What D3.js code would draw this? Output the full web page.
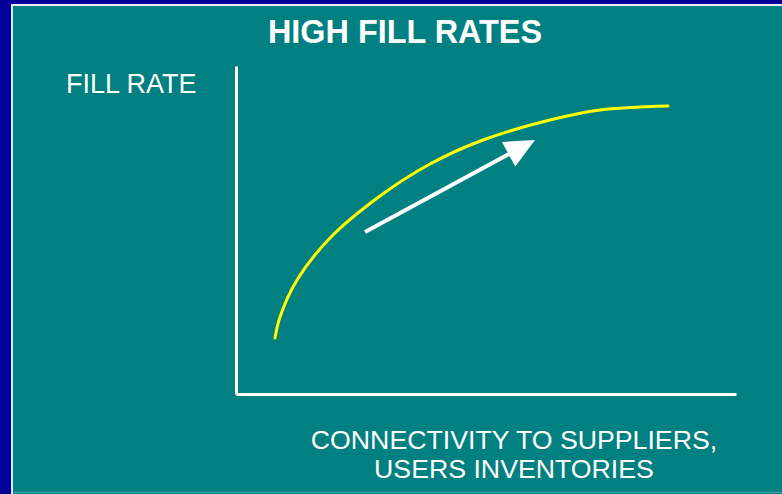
<!DOCTYPE html>
<html>
<head>
<meta charset="utf-8">
<script src="https://cdn.jsdelivr.net/npm/d3@7"></script>
<style>
  body { margin: 0; background: #000099; }
  text { font-family: "Liberation Sans", Arial, sans-serif; fill: #ffffff; }
</style>
</head>
<body>
<div id="chart"></div>
<script>
"use strict";

// curve (distance units from the axis origin)
var curveX = [39, 44, 61, 94, 144, 194, 247, 314, 364, 432];
var curveY = [56, 77, 114, 156, 198, 230, 254, 274, 284, 288];

// trend arrow: start and tip
var arrowX = [129, 299];
var arrowY = [162, 254];

var title = "HIGH FILL RATES";
var yLabel = "FILL RATE";
var xLabel = ["CONNECTIVITY TO SUPPLIERS,", "USERS INVENTORIES"];

var W = 782, H = 494;
var margin = {top: 66, right: 46, bottom: 100, left: 236},
    width = W - margin.left - margin.right,
    height = H - margin.top - margin.bottom;

var svg = d3.select("#chart")
  .append("svg")
    .attr("width", W)
    .attr("height", H)
    .style("display", "block");

// frame: blue border, thin white edge, teal panel
svg.append("rect").attr("width", W).attr("height", H).attr("fill", "#000099");
svg.append("rect").attr("x", 11).attr("y", 4).attr("width", W - 11).attr("height", H - 4).attr("fill", "#e8e8ff");
svg.append("rect").attr("x", 13).attr("y", 6).attr("width", W - 13).attr("height", H - 6).attr("fill", "#008080");
svg.append("rect").attr("x", 13).attr("y", H - 2).attr("width", W - 13).attr("height", 1).attr("fill", "#40a8a8");

svg.append("text")
  .attr("x", 405).attr("y", 43)
  .attr("text-anchor", "middle")
  .style("font-size", "32.4px").style("font-weight", "bold")
  .text(title);

svg.append("text")
  .attr("x", 66).attr("y", 93)
  .style("font-size", "27px")
  .text(yLabel);

svg.append("text")
  .attr("x", 514).attr("y", 449)
  .attr("text-anchor", "middle")
  .style("font-size", "26.7px")
  .selectAll("tspan")
  .data(xLabel)
  .join("tspan")
    .attr("x", 514)
    .attr("dy", function(d, i) { return i ? 29 : 0; })
    .text(function(d) { return d; });

var g = svg.append("g")
  .attr("transform", "translate(" + margin.left + "," + margin.top + ")");

var x = d3.scaleLinear().domain([0, 500]).range([0, width]);
var y = d3.scaleLinear().domain([0, 328]).range([height, 0]);

// axes: plain white lines, no ticks
var xAxis = g.append("g")
  .attr("transform", "translate(0," + height + ")")
  .call(d3.axisBottom(x).tickValues([]).tickSizeOuter(0));
var yAxis = g.append("g")
  .call(d3.axisLeft(y).tickValues([]).tickSizeOuter(0));
[xAxis, yAxis].forEach(function(a) {
  a.select(".domain").attr("stroke", "#ffffff").attr("stroke-width", 3);
});

var pts = curveX.map(function(d, i) { return [d, curveY[i]]; });
var line = d3.line()
  .x(function(d) { return x(d[0]); })
  .y(function(d) { return y(d[1]); })
  .curve(d3.curveCatmullRom.alpha(0.5));

g.append("path")
  .datum(pts)
  .attr("fill", "none")
  .attr("stroke", "#ffff00")
  .attr("stroke-width", 3)
  .attr("stroke-linecap", "round")
  .attr("d", line);

// arrow
var x0 = x(arrowX[0]), y0 = y(arrowY[0]), x1 = x(arrowX[1]), y1 = y(arrowY[1]);
var len = Math.hypot(x1 - x0, y1 - y0), ux = (x1 - x0) / len, uy = (y1 - y0) / len;
var headL = 30, headW = 14;
var bx = x1 - ux * headL, by = y1 - uy * headL;

g.append("line")
  .attr("x1", x0).attr("y1", y0)
  .attr("x2", bx + ux * 2).attr("y2", by + uy * 2)
  .attr("stroke", "#ffffff")
  .attr("stroke-width", 4);

g.append("path")
  .attr("fill", "#ffffff")
  .attr("d", "M" + x1 + "," + y1 +
             "L" + (bx - uy * headW) + "," + (by + ux * headW) +
             "L" + (bx + uy * headW) + "," + (by - ux * headW) + "Z");
</script>
</body>
</html>
